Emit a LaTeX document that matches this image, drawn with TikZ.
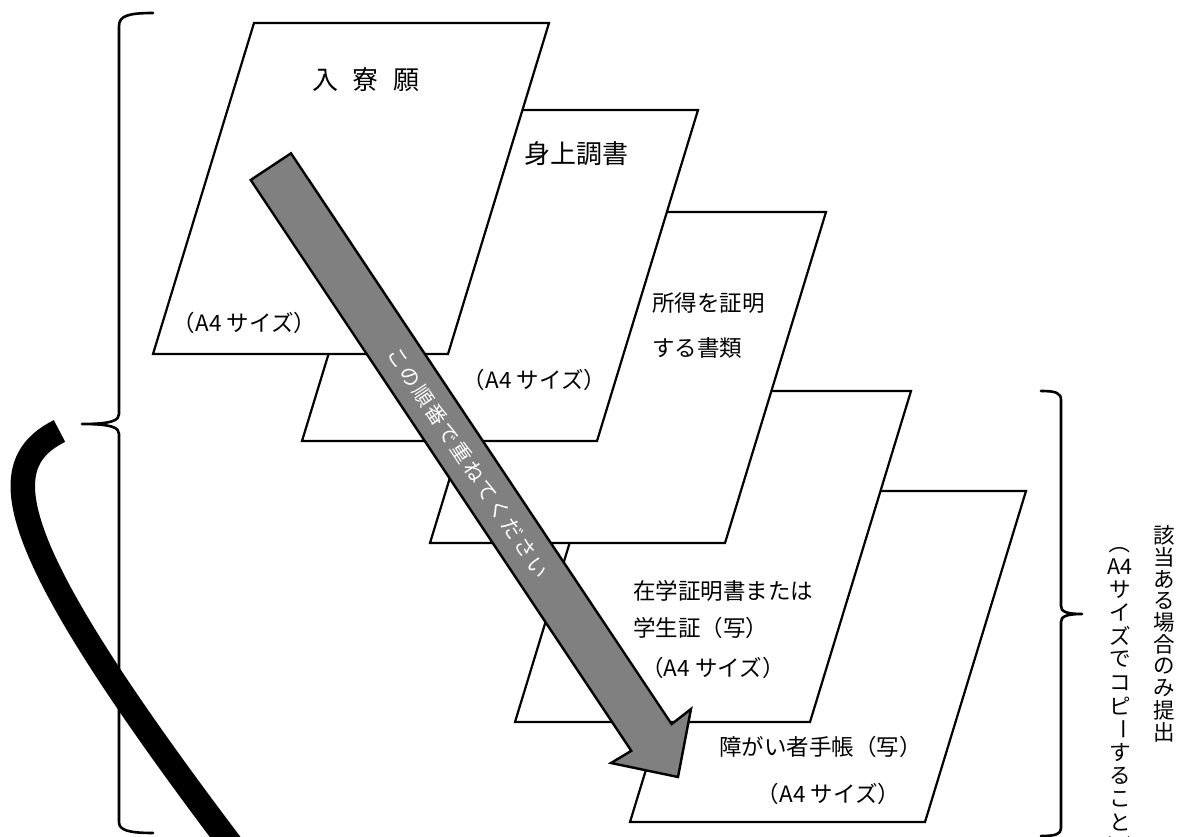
\documentclass[tikz,border=0pt]{standalone}
\usepackage{fontspec}
\usepackage{graphicx}
\setmainfont{Noto Sans CJK JP}
\definecolor{arrowgray}{RGB}{128,128,128}
\newcommand\akern{\kern2.4pt}
\newcommand\bkern{\kern14.5pt}
\newcommand\vrot[1]{\rotatebox[origin=c]{-90}{#1}}
\begin{document}
\begin{tikzpicture}[x=1pt,y=-1pt,
  sheet/.style={draw=black,fill=white,line width=2.2pt,line join=miter},
  lbl/.style={inner sep=0pt,font=\fontsize{22.5}{27}\selectfont},
  big/.style={inner sep=0pt,font=\fontsize{26}{30}\selectfont},
  vch/.style={inner sep=0pt,font=\fontsize{21.5}{25}\selectfont},
  brace/.style={line width=2.6pt,line cap=round,line join=round},
  arrowbody/.style={draw=black,fill=arrowgray,line width=2.4pt,line join=miter},
  stroke/.style={line width=24.5pt,line cap=butt}]
\useasboundingbox (0,0) rectangle (1180,837);
\clip (0,0) rectangle (1180,837);

% sheets, back to front (bottom-left corners)
\coordinate (s5) at (630,822);
\coordinate (s4) at (515,722);
\coordinate (s3) at (430,543);
\coordinate (s2) at (302,441);
\coordinate (s1) at (153,354);
\foreach \s in {s5,s4,s3,s2,s1}
  \draw[sheet] (\s) -- ++(295,0) -- ++(101,-331) -- ++(-295,0) -- cycle;

% texts on sheets
\node[big,anchor=center] (t1) at (366,80) {入\bkern 寮\bkern 願};
\node[lbl] (t1a) at (244.5,323) {（A4 サイズ）};
\node[big,anchor=west] (t2) at (524,154) {身上調書};
\node[lbl] (t2a) at (534.5,380) {（A4 サイズ）};
\node[lbl,anchor=west] (t3) at (652,303) {所得を証明};
\node[lbl,anchor=west] (t3b) at (652,348) {する書類};
\node[lbl,anchor=west] (t4) at (633,591) {在学証明書または};
\node[lbl,anchor=west] (t4b) at (633,628) {学生証（写）};
\node[lbl] (t4a) at (713,668) {（A4 サイズ）};
\node[lbl,anchor=west] (t5) at (719,747) {障がい者手帳（写）};
\node[lbl] (t5a) at (828.5,794) {（A4 サイズ）};

% big arrow
\coordinate (aTL) at (250.7,180);
\coordinate (aTR) at (291,153.3);
\coordinate (aIR) at (671.6,724.1);
\coordinate (aBR) at (691,709);
\coordinate (aTip) at (678,777);
\coordinate (aBL) at (611,763);
\coordinate (aIL) at (631.3,750.8);
\draw[arrowbody] (aTL) -- (aTR) -- (aIR) -- (aBR) -- (aTip) -- (aBL) -- (aIL) -- cycle;
\node[rotate=-56.3,text=white,inner sep=0pt,font=\fontsize{20.5}{24}\selectfont] (atext) at (468,462.5)
  {こ\akern の\akern 順\akern 番\akern で\akern 重\akern ね\akern て\akern く\akern だ\akern さ\akern い};

% left brace
\draw[brace] (153,13) .. controls (128,13) and (119,16) .. (119,26) -- (119,414)
  .. controls (119,420) and (113,424) .. (82,424)
  .. controls (113,424) and (119,428) .. (119,434) -- (119,822)
  .. controls (119,830) and (128,833) .. (153,833);
% right brace
\draw[brace] (1041,391) .. controls (1056,391) and (1061,393) .. (1061,400) -- (1061,606)
  .. controls (1061,611) and (1065,614) .. (1082,614)
  .. controls (1065,614) and (1061,617) .. (1061,622) -- (1061,828)
  .. controls (1061,834) and (1056,836) .. (1041,836);

% thick black curve
\coordinate (cStart) at (59.5,431);
\coordinate (cEnd) at (235,850);
\draw[stroke] (cStart) .. controls (-8,465) and (0,540) .. (cEnd);

% vertical texts
\foreach \c [count=\i from 0] in {該,当,あ,る,場,合,の,み,提,出}
  \node[vch] (va\i) at (1164,535.7+21.8*\i) {\c};
\foreach \c [count=\i from 0] in {\vrot{（},A4,サ,イ,ズ,で,コ,ピ,\vrot{ー},す,る,こ,と,\vrot{）}}
  \node[vch] (vb\i) at (1120,543+23.3*\i) {\c};
\end{tikzpicture}
\end{document}
